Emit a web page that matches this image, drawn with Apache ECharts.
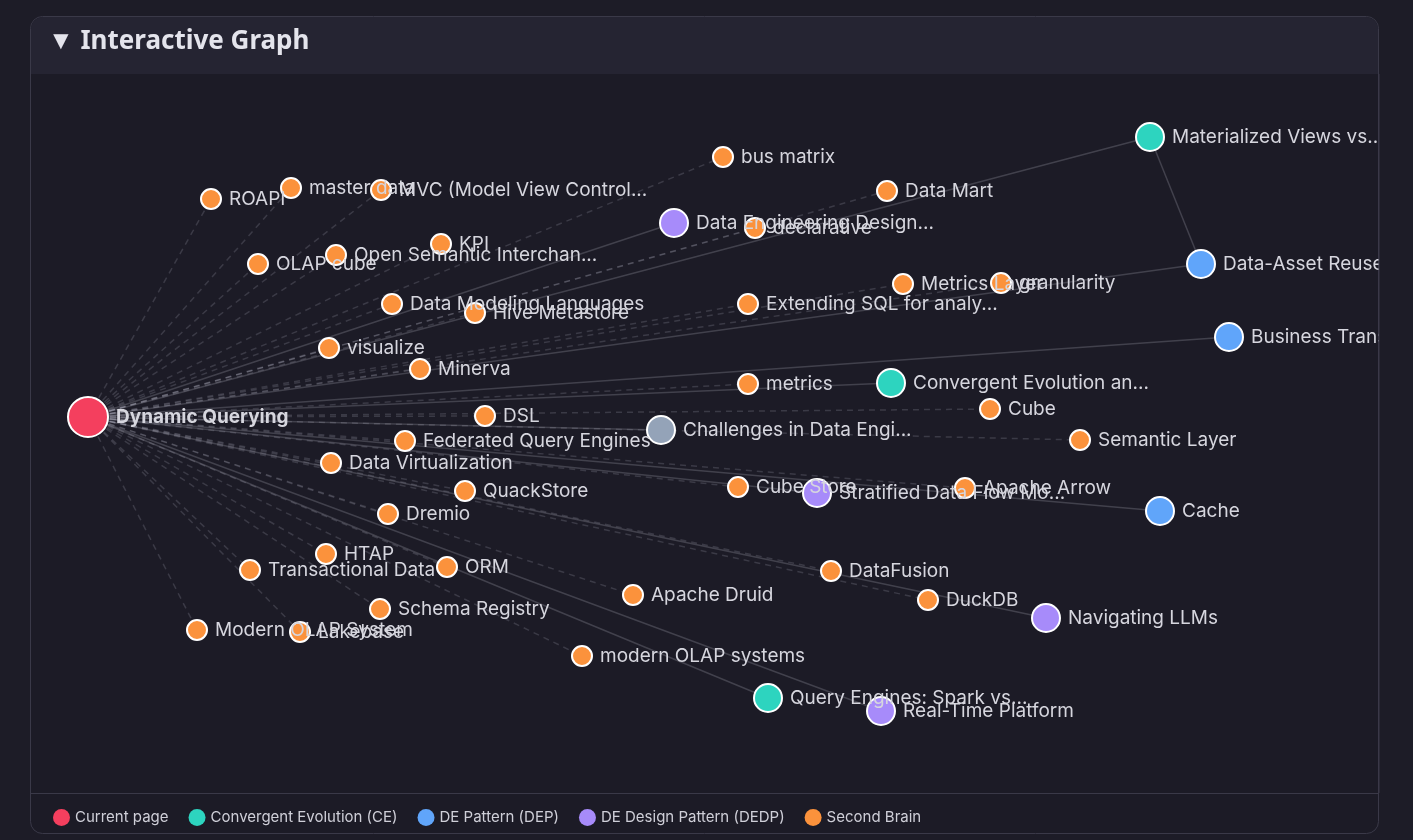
<!DOCTYPE html>
<html><head><meta charset="utf-8">
<script src="https://cdn.jsdelivr.net/npm/echarts@6/dist/echarts.min.js"></script>
<style>html,body{margin:0;padding:0;background:#1d1c27;}#c{width:1413px;height:840px;}</style>
</head><body><div id="c"></div>
<script>
const categories = ['Current page','Convergent Evolution (CE)','DE Pattern (DEP)','DE Design Pattern (DEDP)','Second Brain','Other'];
const catColors = ['#f43f5e','#2dd4bf','#60a5fa','#a78bfa','#fb923c','#94a3b8'];
const nodeNames = ['Dynamic Querying','ROAPI','master data','MVC (Model View Control...','OLAP cube','Open Semantic Interchan...','KPI','Data Modeling Languages','Hive Metastore','visualize','Minerva','DSL','Federated Query Engines','Data Virtualization','QuackStore','Dremio','HTAP','Transactional Data','ORM','Schema Registry','Modern OLAP System','Lakebase','modern OLAP systems','Apache Druid','bus matrix','Data Engineering Design...','declarative','Data Mart','Metrics Layer','granularity','Extending SQL for analy...','metrics','Convergent Evolution an...','Cube','Semantic Layer','Challenges in Data Engi...','Cube Store','Stratified Data Flow Mo...','Apache Arrow','Cache','DataFusion','DuckDB','Navigating LLMs','Query Engines: Spark vs...','Real-Time Platform','Materialized Views vs...','Data-Asset Reuse','Business Transformation'];
const nodeX = [88,211,291,381,258,336,441,392,475,329,420,485,405,331,465,388,326,250,447,380,197,300,582,633,723,674,755,887,903,1001,748,748,891,990,1080,661,738,817,965,1160,831,928,1046,768,881,1150,1201,1229];
const nodeY = [417,199,188,190,264,255,244,304,313,348,369,416,441,463,491,514,554,570,567,609,630,632,656,595,157,223,228,191,284,283,304,384,383,409,440,430,487,493,488,511,571,600,618,698,711,137,264,337];
const nodeCat = [0,4,4,4,4,4,4,4,4,4,4,4,4,4,4,4,4,4,4,4,4,4,4,4,4,3,4,4,4,4,4,4,1,4,4,5,4,3,4,2,4,4,3,1,3,1,2,2];
const extraLinks = [['Materialized Views vs...','Data-Asset Reuse']];

const nodes = nodeNames.map((n,i)=>({
  name:n, value:[nodeX[i],nodeY[i]], category:nodeCat[i],
  symbolSize: nodeCat[i]===0?40:(nodeCat[i]===4?20:28),
  label: nodeCat[i]===0?{fontWeight:'bold'}:undefined
}));
const links = nodeNames.slice(1).map((n,i)=>({source:nodeNames[0],target:n,
  lineStyle: nodeCat[i+1]===4?{type:[6,5],color:'rgba(200,200,215,0.18)'}:{type:'solid',color:'rgba(200,200,215,0.22)'}}));
extraLinks.forEach(l=>links.push({source:l[0],target:l[1],lineStyle:{type:'solid',color:'rgba(200,200,215,0.22)'}}));

const chart = echarts.init(document.getElementById('c'));
chart.setOption({
  backgroundColor:'#1d1c27',
  color: catColors,
  graphic:[
    {type:'rect',z:-10,shape:{x:30.5,y:16.5,width:1348,height:817,r:12},style:{fill:'#1c1b26',stroke:'#3a3948',lineWidth:1}},
    {type:'rect',z:-9,shape:{x:31,y:17,width:1347,height:57,r:[12,12,0,0]},style:{fill:'#252432'}},
    {type:'rect',z:-9,shape:{x:31,y:793,width:1347,height:1},style:{fill:'#3a3948'}},
    {type:'text',z:10,left:48,top:29,style:{text:'▼ Interactive Graph',fill:'#e4e4ec',font:'bold 26px "Noto Sans", sans-serif'}},
    {type:'rect',z:100,zlevel:1,shape:{x:1379,y:74,width:40,height:720},style:{fill:'#1d1c27'}},
    {type:'rect',z:101,zlevel:1,shape:{x:1378.5,y:74,width:1,height:719},style:{fill:'#3a3948'}}
  ],
  legend:{
    data: categories.slice(0,5), left:48, top:804, icon:'circle', itemWidth:17, itemHeight:17, itemGap:20,
    itemStyle:{borderWidth:0},
    textStyle:{color:'#cfcfd8',fontSize:15,fontFamily:'Inter, sans-serif'}
  },
  grid:{left:0,right:0,top:0,bottom:0},
  xAxis:{type:'value',min:0,max:1413,show:false},
  yAxis:{type:'value',min:0,max:840,inverse:true,show:false},
  series:[{
    type:'graph', coordinateSystem:'cartesian2d', layout:'none',
    categories: categories.map(c=>({name:c})),
    data: nodes, links: links,
    itemStyle:{borderColor:'#ffffff',borderWidth:2},
    lineStyle:{width:1.5,opacity:1},
    label:{show:true,position:'right',distance:7,color:'#d6d6de',fontSize:19,fontFamily:'Inter, sans-serif'},
    emphasis:{disabled:true}
  }]
});
</script></body></html>
